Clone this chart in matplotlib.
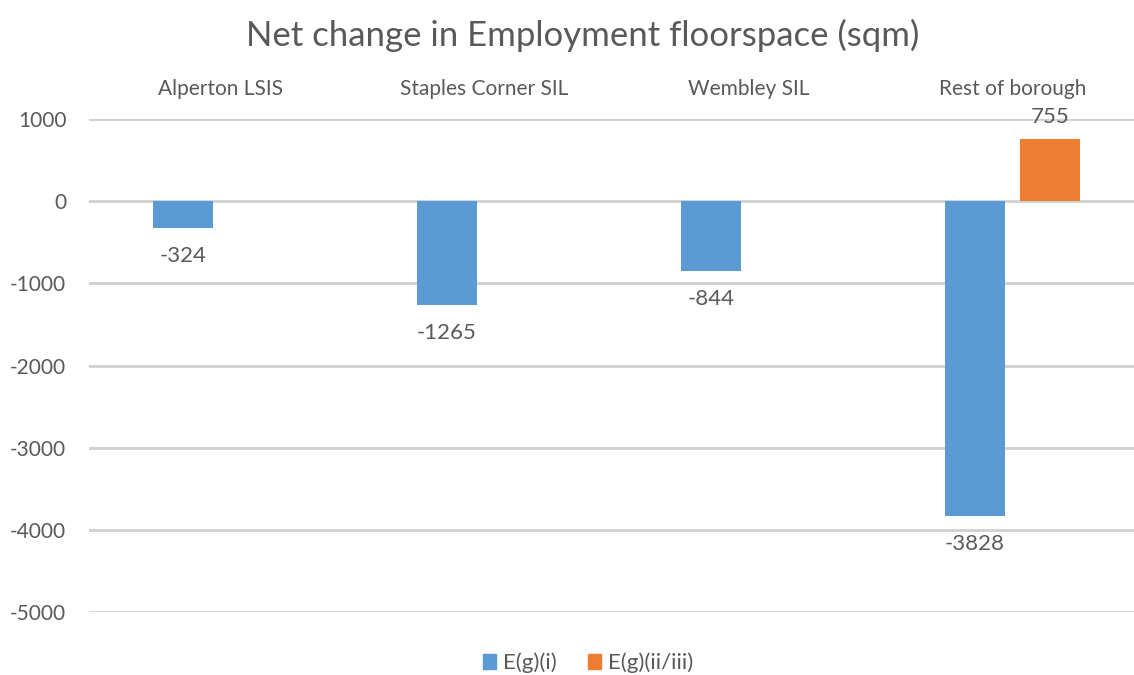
import numpy as np
import matplotlib
matplotlib.use("Agg")
import matplotlib.pyplot as plt
import matplotlib.transforms as mtransforms
from matplotlib.patches import Patch

categories = ["Alperton LSIS", "Staples Corner SIL", "Wembley SIL", "Rest of borough"]
series_names = ["E(g)(i)", "E(g)(ii/iii)"]
eg_i = [-324, -1265, -844, -3828]
eg_ii_iii = [np.nan, np.nan, np.nan, 755]
y_ticks = [1000, 0, -1000, -2000, -3000, -4000, -5000]

BLUE = "#5B9BD5"
ORANGE = "#ED7D31"
TEXT = "#595959"
GRID = "#D0D0D0"

plt.rcParams["font.family"] = ["Lato", "DejaVu Sans"]

fig = plt.figure(figsize=(11.34, 6.75), dpi=100)
ax = fig.add_axes([88.5 / 1134, 63 / 675, 1056 / 1134, 493 / 675])

x = np.arange(len(categories))
width = 0.225
offset = 0.142

ax.bar(x - offset, eg_i, width, color=BLUE, zorder=3)
ax.bar(x + offset, eg_ii_iii, width, color=ORANGE, zorder=3)


def label_bars(xs, values):
    for xi, v in zip(xs, values):
        if np.isnan(v):
            continue
        neg = v < 0
        ax.annotate(f"{v:g}", (xi, v), xytext=(0, -13 if neg else 9),
                    textcoords="offset points", ha="center",
                    va="top" if neg else "bottom", fontsize=16, color=TEXT)


label_bars(x - offset, eg_i)
label_bars(x + offset, eg_ii_iii)

ax.set_xlim(-0.5, len(categories) - 0.5)
ax.set_ylim(-5000, 1000)
ax.set_yticks(y_ticks)
ax.set_yticklabels([f"{t}" for t in y_ticks])
ax.tick_params(axis="y", length=0, labelsize=15, labelcolor=TEXT, pad=16)
ax.set_xticks([])
for s in ax.spines.values():
    s.set_visible(False)
ax.yaxis.grid(True, color=GRID, linewidth=2, zorder=0)
ax.set_axisbelow(True)

# category labels along the top of the plot area
top_shift = ax.transData + mtransforms.ScaledTranslation(0, 0.2, fig.dpi_scale_trans)
for xi, c in zip(x, categories):
    ax.text(xi, 1000, c, ha="center", va="bottom", fontsize=15, color=TEXT,
            transform=top_shift)

fig.text(583 / 1134, 1 - 35 / 675, "Net change in Employment floorspace (sqm)",
         ha="center", va="center", fontsize=25, color=TEXT)

handles = [Patch(color=BLUE), Patch(color=ORANGE)]
fig.legend(handles, series_names, loc="center", bbox_to_anchor=(588 / 1134, 1 - 663 / 675),
           ncol=2, frameon=False, fontsize=16, labelcolor=TEXT,
           handlelength=0.6, handleheight=0.6, handletextpad=0.3, columnspacing=1.4)

fig.savefig("out.png", dpi=100)
